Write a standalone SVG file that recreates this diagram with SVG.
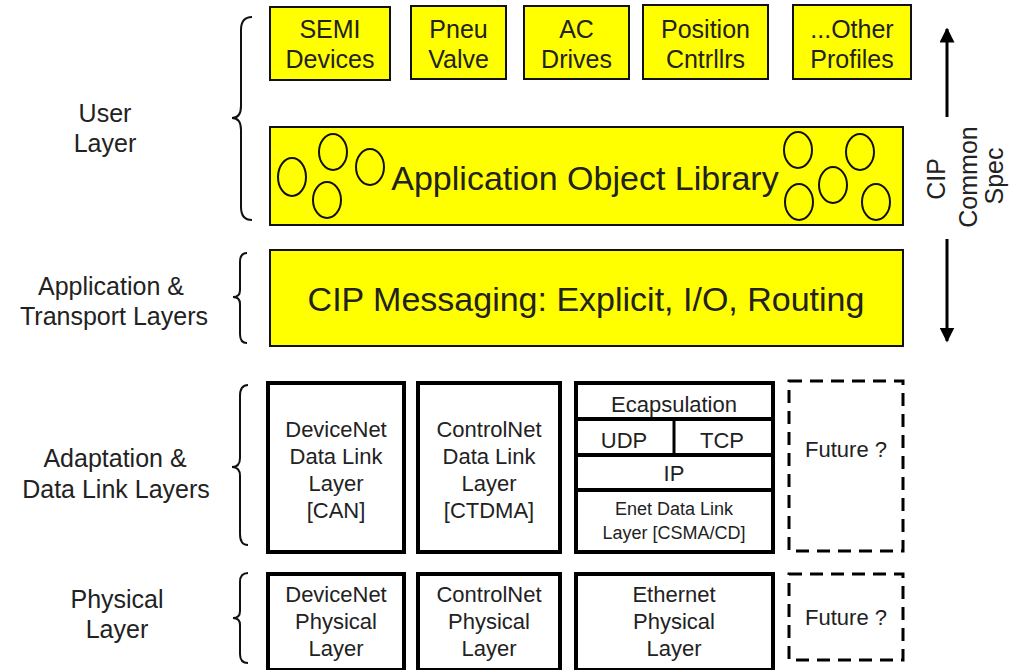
<svg xmlns="http://www.w3.org/2000/svg" width="1016" height="670" viewBox="0 0 1016 670">
<defs>
<style>
text{font-family:"Liberation Sans",Arial,sans-serif;fill:#222;text-anchor:middle}
.y{fill:#ffff00;stroke:#111;stroke-width:2}
.w{fill:#fff;stroke:#000;stroke-width:4}
.d{fill:#fff;stroke:#000;stroke-width:3;stroke-dasharray:13 8}
.c{fill:none;stroke:#111;stroke-width:2}
.br{fill:none;stroke:#111;stroke-width:2}
.t25{font-size:25px}
.t22{font-size:22px}
.t18{font-size:18px}
.t34{font-size:34px}
</style>
<marker id="ah" viewBox="0 0 10 10" refX="9" refY="5" markerWidth="5" markerHeight="5" orient="auto-start-reverse" markerUnits="strokeWidth">
<path d="M0,0 L10,5 L0,10 z" fill="#000"/>
</marker>
</defs>
<rect width="1016" height="670" fill="#fff"/>

<g id="labels">
<text class="t25" x="105" y="122">User</text>
<text class="t25" x="105" y="152">Layer</text>
<text class="t25" x="111" y="295">Application &amp;</text>
<text class="t25" x="114" y="325">Transport Layers</text>
<text class="t25" x="115" y="467">Adaptation &amp;</text>
<text class="t25" x="116" y="498">Data Link Layers</text>
<text class="t25" x="117" y="608">Physical</text>
<text class="t25" x="117" y="638">Layer</text>
</g>

<g id="braces">
<path class="br" d="M252,17 Q241,17 241,30 L241,106 Q241,118 232,118 Q241,118 241,130 L241,207 Q241,220 252,220"/>
<path class="br" d="M247,253 Q240,253 240,262 L240,290 Q240,297 233,297 Q240,297 240,304 L240,334 Q240,343 247,343"/>
<path class="br" d="M248,385 Q240,385 240,396 L240,458 Q240,467 232,467 Q240,467 240,476 L240,534 Q240,545 248,545"/>
<path class="br" d="M248,573 Q240,573 240,582 L240,611 Q240,618 233,618 Q240,618 240,625 L240,654 Q240,663 248,663"/>
</g>

<g id="semi"><rect class="y" x="270" y="7" width="120" height="73"/><text class="t25" x="330" y="38">SEMI</text><text class="t25" x="330" y="68">Devices</text></g>
<g id="pneu"><rect class="y" x="411" y="6" width="95" height="73"/><text class="t25" x="458.5" y="38">Pneu</text><text class="t25" x="458.5" y="68">Valve</text></g>
<g id="ac"><rect class="y" x="524" y="6" width="105" height="73"/><text class="t25" x="576.5" y="38">AC</text><text class="t25" x="576.5" y="68">Drives</text></g>
<g id="position"><rect class="y" x="643" y="5" width="125" height="74"/><text class="t25" x="705.5" y="38">Position</text><text class="t25" x="705.5" y="68">Cntrllrs</text></g>
<g id="other"><rect class="y" x="793" y="5" width="118" height="74"/><text class="t25" x="852" y="38">...Other</text><text class="t25" x="852" y="68">Profiles</text></g>

<g id="aol">
<rect class="y" x="270" y="127" width="633" height="98"/>
<ellipse class="c" cx="292" cy="177" rx="14" ry="19"/>
<ellipse class="c" cx="333" cy="152" rx="14" ry="18"/>
<ellipse class="c" cx="370" cy="167" rx="14" ry="18"/>
<ellipse class="c" cx="327" cy="200" rx="14" ry="18"/>
<ellipse class="c" cx="798" cy="150" rx="14" ry="18"/>
<ellipse class="c" cx="860" cy="152" rx="14" ry="18"/>
<ellipse class="c" cx="833" cy="185" rx="14" ry="18"/>
<ellipse class="c" cx="799" cy="202" rx="14" ry="18"/>
<ellipse class="c" cx="876" cy="202" rx="14" ry="18"/>
<text class="t34" x="585" y="190">Application Object Library</text>
</g>

<g id="cipmsg">
<rect class="y" x="270" y="250" width="633" height="96"/>
<text class="t34" x="586" y="311">CIP Messaging: Explicit, I/O, Routing</text>
</g>

<g id="connectors">
<line x1="947" y1="117" x2="947" y2="29" stroke="#000" stroke-width="3" marker-end="url(#ah)"/>
<line x1="947" y1="239" x2="947" y2="341" stroke="#000" stroke-width="3" marker-end="url(#ah)"/>
</g>

<g id="cipspec">
<text class="t25" transform="translate(945,179) rotate(-90)">CIP</text>
<text class="t25" transform="translate(977,177) rotate(-90)">Common</text>
<text class="t25" transform="translate(1003,176) rotate(-90)">Spec</text>
</g>

<g id="devicenet-dl"><rect class="w" x="268" y="383" width="136" height="169"/>
<text class="t22" x="336" y="437">DeviceNet</text><text class="t22" x="336" y="464">Data Link</text><text class="t22" x="336" y="491">Layer</text><text class="t22" x="336" y="518">[CAN]</text></g>
<g id="controlnet-dl"><rect class="w" x="418" y="383" width="142" height="169"/>
<text class="t22" x="489" y="437">ControlNet</text><text class="t22" x="489" y="464">Data Link</text><text class="t22" x="489" y="491">Layer</text><text class="t22" x="489" y="518">[CTDMA]</text></g>
<g id="ethernet-dl">
<rect class="w" x="576" y="383" width="197" height="169"/>
<line x1="576" y1="419" x2="773" y2="419" stroke="#000" stroke-width="4"/>
<line x1="576" y1="455" x2="773" y2="455" stroke="#000" stroke-width="4"/>
<line x1="576" y1="490" x2="773" y2="490" stroke="#000" stroke-width="4"/>
<line x1="674" y1="419" x2="674" y2="455" stroke="#000" stroke-width="3"/>
<text class="t22" x="674" y="412">Ecapsulation</text>
<text class="t22" x="624" y="448">UDP</text>
<text class="t22" x="722" y="448">TCP</text>
<text class="t22" x="674" y="481">IP</text>
<text class="t18" x="674" y="515">Enet Data Link</text>
<text class="t18" x="674" y="539">Layer [CSMA/CD]</text>
</g>
<g id="future-dl"><rect class="d" x="789" y="381" width="114" height="170"/><text class="t22" x="846" y="457">Future ?</text></g>

<g id="devicenet-phy"><rect class="w" x="268" y="574" width="136" height="96"/>
<text class="t22" x="336" y="602">DeviceNet</text><text class="t22" x="336" y="629">Physical</text><text class="t22" x="336" y="656">Layer</text></g>
<g id="controlnet-phy"><rect class="w" x="418" y="574" width="142" height="96"/>
<text class="t22" x="489" y="602">ControlNet</text><text class="t22" x="489" y="629">Physical</text><text class="t22" x="489" y="656">Layer</text></g>
<g id="ethernet-phy"><rect class="w" x="576" y="574" width="197" height="96"/>
<text class="t22" x="674" y="602">Ethernet</text><text class="t22" x="674" y="629">Physical</text><text class="t22" x="674" y="656">Layer</text></g>
<g id="future-phy"><rect class="d" x="789" y="574" width="114" height="86"/><text class="t22" x="846" y="625">Future ?</text></g>
</svg>
